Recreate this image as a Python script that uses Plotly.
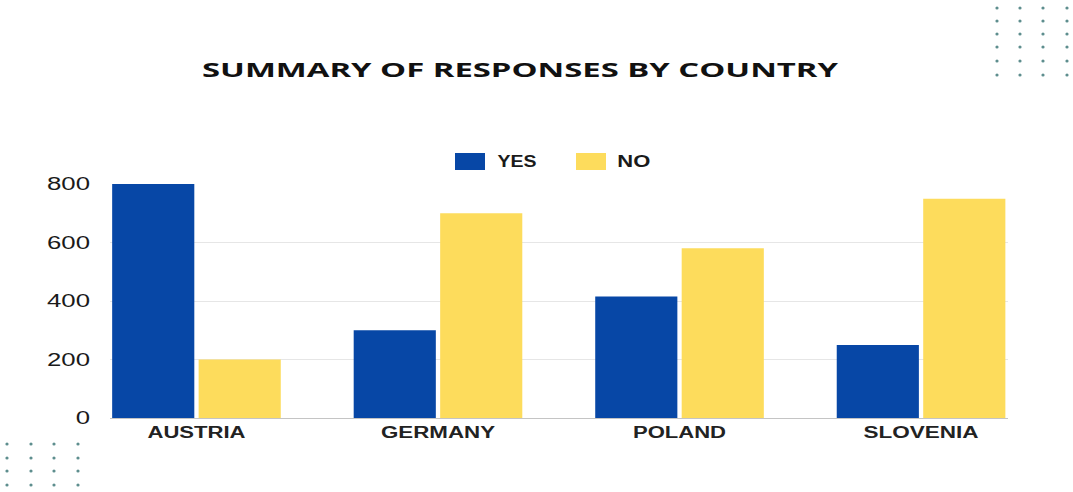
import plotly.graph_objects as go

countries = ["AUSTRIA", "GERMANY", "POLAND", "SLOVENIA"]
yes_values = [800, 300, 415, 250]
no_values = [200, 700, 580, 750]
series_names = ["YES", "NO"]
series_colors = ["#0747A6", "#FDDC5C"]
y_ticks = [0, 200, 400, 600, 800]

W, H = 1073, 492
L, R, T, B = 110, 65, 184, 74
PW, PH = W - L - R, H - T - B


def px_x(px):
    return (px - L) / PW


def px_y(py):
    return (H - B - py) / PH


fig = go.Figure()
for name, vals, col in zip(series_names, [yes_values, no_values], series_colors):
    fig.add_trace(go.Bar(x=countries, y=vals, name=name, marker_color=col,
                         marker_line_width=0, showlegend=False))

shapes = []
annotations = []
# custom legend
leg_x = [455, 576]
for name, col, lx in zip(series_names, series_colors, leg_x):
    shapes.append(dict(type="rect", xref="paper", yref="paper",
                       x0=px_x(lx), x1=px_x(lx + 30), y0=px_y(170), y1=px_y(153),
                       fillcolor=col, line_width=0))
    annotations.append(dict(text=name, xref="paper", yref="paper",
                            x=px_x(lx + 43), y=px_y(161.5), xanchor="left", yanchor="middle",
                            showarrow=False,
                            font=dict(family="Liberation Sans", size=17, color="#1a1a1a", weight="bold")))

# decorative dots
dot_color = "#5E8E8E"
for cx in [997, 1020, 1043, 1067]:
    for cy in [8, 21, 34, 47, 61, 75]:
        shapes.append(dict(type="circle", xref="paper", yref="paper",
                           x0=px_x(cx - 1.6), x1=px_x(cx + 1.6), y0=px_y(cy + 1.6), y1=px_y(cy - 1.6),
                           fillcolor=dot_color, line_width=0))
for cx in [7, 31, 54, 78]:
    for cy in [444, 458, 471, 485]:
        shapes.append(dict(type="circle", xref="paper", yref="paper",
                           x0=px_x(cx - 1.6), x1=px_x(cx + 1.6), y0=px_y(cy + 1.6), y1=px_y(cy - 1.6),
                           fillcolor=dot_color, line_width=0))

fig.update_layout(
    width=W, height=H,
    margin=dict(l=L, r=R, t=T, b=B, pad=0),
    paper_bgcolor="white", plot_bgcolor="white",
    barmode="group", bargap=0.284, bargroupgap=0.05,
    title=dict(text="SUMMARY OF RESPONSES BY COUNTRY", x=520 / W, xanchor="center",
               y=1 - 69.5 / H, yanchor="middle", xref="container", yref="container",
               font=dict(family="Open Sans", size=20, color="#111111", weight="bold")),
    shapes=shapes, annotations=annotations,
    xaxis=dict(range=[-0.358, 3.36], showgrid=False, showline=True, linecolor="#c4c4c4",
               linewidth=1, ticks="", zeroline=False, ticklabelstandoff=0,
               tickfont=dict(family="Liberation Sans", size=16, color="#222222", weight="bold")),
    yaxis=dict(range=[0, 800], tickvals=y_ticks, showgrid=True, gridcolor="#e6e6e6",
               gridwidth=1, zeroline=False, ticks="", ticklabelstandoff=19,
               tickfont=dict(family="Liberation Sans", size=18, color="#1a1a1a")),
)

post = """
document.body.style.margin='0';
var gd=document.getElementById('{plot_id}');
function stretch(el,target){el.setAttribute('textLength',target);el.setAttribute('lengthAdjust','spacingAndGlyphs');}
var t=gd.querySelector('.gtitle'); if(t){stretch(t,636);}
var xw={'AUSTRIA':98,'GERMANY':114,'POLAND':93,'SLOVENIA':115};
gd.querySelectorAll('.xtick text').forEach(function(e){var w=xw[e.textContent]; if(w){stretch(e,w);}});
var yt=gd.querySelectorAll('.ytick text'); var f=1;
yt.forEach(function(e){if(e.textContent==='800'){f=43/e.getComputedTextLength();}});
yt.forEach(function(e){stretch(e,e.getComputedTextLength()*f);});
var lw={'YES':39,'NO':33};
gd.querySelectorAll('.annotation-text').forEach(function(e){var w=lw[e.textContent]; if(w){stretch(e,w);}});
"""
fig.write_html("out.html", post_script=post, config={"displayModeBar": False})
